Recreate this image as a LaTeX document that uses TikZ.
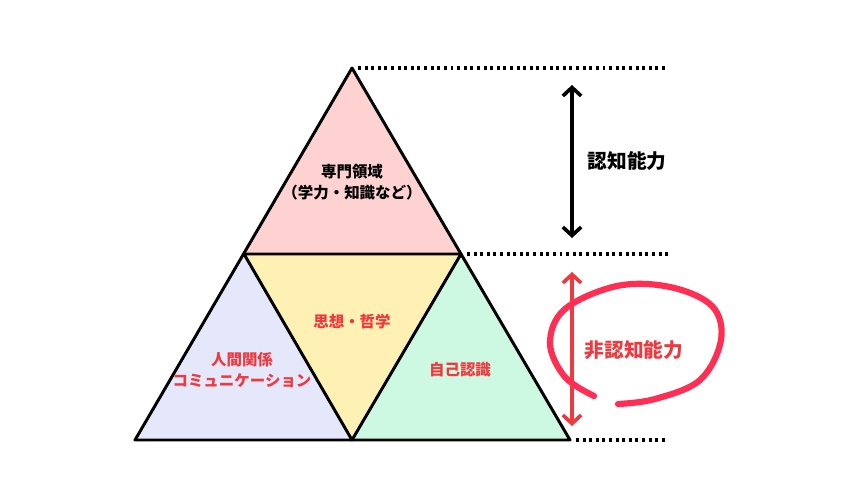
\documentclass[tikz,border=0pt]{standalone}
\usepackage{fontspec}
\setmainfont{Noto Sans CJK JP}
\usetikzlibrary{arrows.meta,calc}
\definecolor{areapink}{HTML}{FFD2D2}
\definecolor{arealilac}{HTML}{E5E7FA}
\definecolor{areayellow}{HTML}{FFF0B3}
\definecolor{areamint}{HTML}{CDF8E1}
\definecolor{labelred}{HTML}{EE3A3F}
\definecolor{loopred}{HTML}{FF2E52}

\tikzset{
  edge/.style={line width=2.1pt, line join=round},
  guide/.style={line width=2.2pt, dash pattern=on 2.1pt off 2.6pt},
  area/.style={font=\fontsize{11}{15}\selectfont\bfseries, align=center},
  span/.style={line width=2.6pt, {Straight Barb[length=6pt,width=13pt]}-{Straight Barb[length=6pt,width=13pt]}}
}

\begin{document}
\begin{tikzpicture}[x=0.025cm, y=-0.025cm]
\useasboundingbox[fill=white] (0,0) rectangle (858,496);
% corners of the pyramid
\coordinate (top) at (352,68);
\coordinate (bl) at (135,440);
\coordinate (br) at (570,440);
\coordinate (ml) at (244,254);
\coordinate (mr) at (461,254);
\coordinate (mb) at (352,440);
% four areas
\fill[areapink] (top) -- (ml) -- (mr) -- cycle;
\fill[arealilac] (ml) -- (bl) -- (mb) -- cycle;
\fill[areayellow] (ml) -- (mr) -- (mb) -- cycle;
\fill[areamint] (mr) -- (mb) -- (br) -- cycle;
\draw[edge] (top) -- (bl) -- (br) -- cycle;
\draw[edge] (ml) -- (mr) -- (mb) -- cycle;
% dotted guides
\coordinate (g1) at (668,68);
\coordinate (g2) at (668,254);
\coordinate (g3) at (668,440);
\draw[guide] ($(top)+(6,0)$) -- (g1);
\draw[guide] ($(mr)+(6,0)$) -- (g2);
\draw[guide] ($(br)+(6,0)$) -- (g3);
% labels in the areas
\node[area] (senmon) at (352,182) {専門領域\\（学力・知識など）};
\node[area, text=labelred] (shiso) at (352,322) {思想・哲学};
\node[area, text=labelred] (ningen) at (242,370) {人間関係\\コミュニケーション};
\node[area, text=labelred] (jiko) at (460,370) {自己認識};
% spans on the right
\coordinate (a1) at (572,85);
\coordinate (a2) at (572,238);
\coordinate (b1) at (572,272);
\coordinate (b2) at (572,426);
\draw[span] (a1) -- (a2);
\draw[span, labelred] (b1) -- (b2);
\node[font=\fontsize{14}{16}\selectfont\bfseries] (ninchi) at (627,161) {認知能力};
\node[font=\fontsize{14}{16}\selectfont\bfseries, text=labelred] (hinin) at (634,350) {非認知能力};
% hand drawn loop
\draw[loopred, line width=4.4pt, line cap=round]
  plot[smooth, tension=0.6] coordinates {(594,396) (565,377) (550,343) (565,309) (617,286) (670,287) (712,306) (721,340) (700,380) (655,399) (618,404)};
\end{tikzpicture}
\end{document}
